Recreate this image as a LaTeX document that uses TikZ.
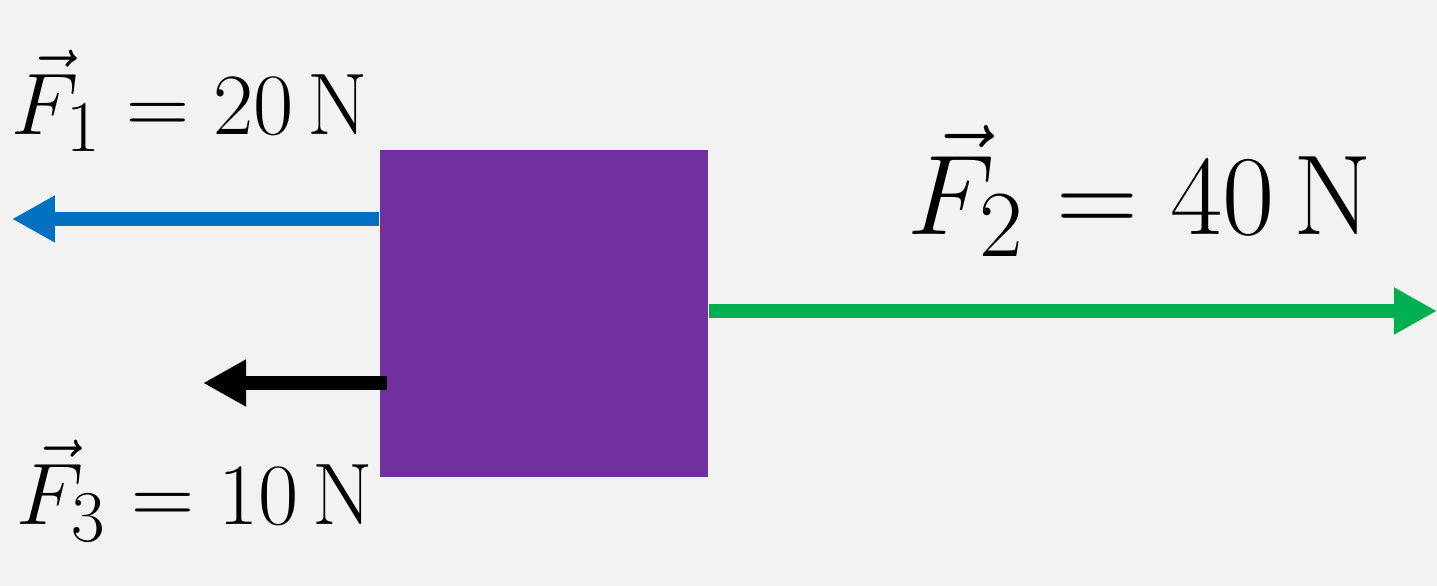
\documentclass[tikz,border=0pt]{standalone}
\usepackage{tikz}
\usetikzlibrary{arrows.meta}
\definecolor{boxpurple}{RGB}{112, 48, 160}
\definecolor{forceblue}{RGB}{0, 112, 192}
\definecolor{forcegreen}{RGB}{0, 176, 80}
\definecolor{paper}{RGB}{242, 242, 242}
\newcommand{\forcelabel}[2]{\ensuremath{\vec{F}_{#1} = #2\,\mathrm{N}}}

\begin{document}
\begin{tikzpicture}[forcearrow/.style={line width=0.145cm,-{Triangle[length=0.43cm,width=0.44cm]}},
    lbl/.style={font=\fontsize{30}{34}\selectfont,inner sep=0pt}]
        %\draw[step=.5cm,gray,very thin] (0,0) grid (14.37,5.86);
        \fill[paper] (0,0) rectangle (14.37,5.86);
        \useasboundingbox (0,0) rectangle (14.37,5.86);
        \node[fill=boxpurple,minimum width=3.28cm,minimum height=3.27cm,inner sep=0pt] (box) at (5.44,2.725) {};
        \coordinate (f1tip) at (0.12,3.67);
        \coordinate (f2tip) at (14.37,2.75);
        \coordinate (f3start) at (3.87,2.03);
        \coordinate (f3tip) at (2.03,2.03);
        \draw[forcearrow,forceblue] (box.west |- f1tip) -- (f1tip);
        \draw[forcearrow,forcegreen] (box.east |- f2tip) -- (f2tip);
        \draw[forcearrow,black] (f3start) -- (f3tip);
        \node[lbl] (F1) at (1.9,4.85) {\forcelabel{1}{20}};
        \node[lbl,scale=1.3] (F2) at (11.4,3.95) {\forcelabel{2}{40}};
        \node[lbl] (F3) at (1.95,0.95) {\forcelabel{3}{10}};
      \end{tikzpicture}
\end{document}
